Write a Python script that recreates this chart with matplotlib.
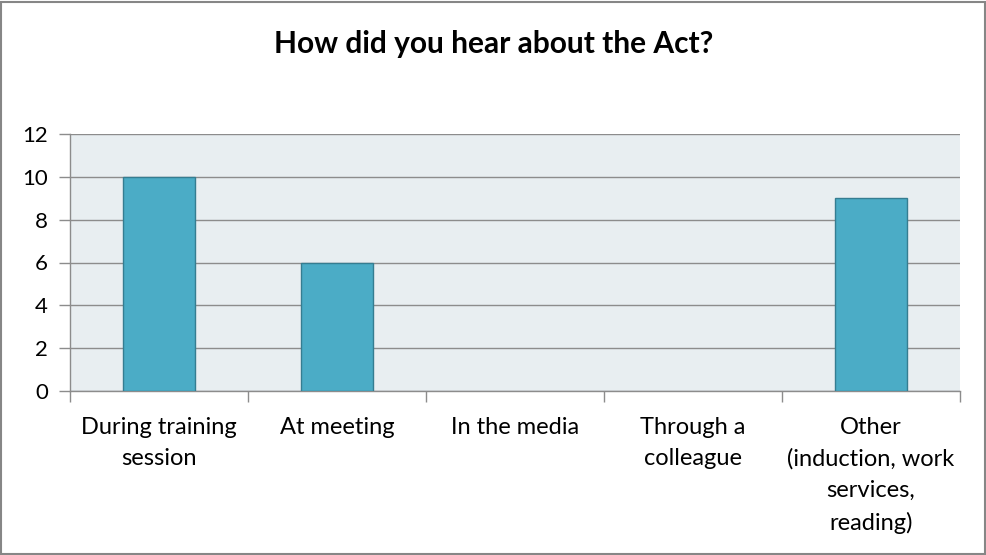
import matplotlib
matplotlib.use("Agg")
import matplotlib.pyplot as plt
from matplotlib.patches import Rectangle

categories = ["During training\nsession", "At meeting", "In the media",
              "Through a\ncolleague", "Other\n(induction, work\nservices,\nreading)"]
counts = [10, 6, 0, 0, 9]
yticks = [0, 2, 4, 6, 8, 10, 12]
title = "How did you hear about the Act?"

plt.rcParams['font.family'] = ['Lato', 'DejaVu Sans']

W, H = 987, 555
fig = plt.figure(figsize=(W / 100, H / 100), dpi=100)
fig.patch.set_facecolor("white")

# outer chart border
fig.add_artist(Rectangle((1.5 / W, 1.5 / H), (W - 3) / W, (H - 3) / H,
                         transform=fig.transFigure, fill=False,
                         edgecolor="#868686", linewidth=1.5))

left, right, top, bottom = 70, 960, 134, 391
ax = fig.add_axes([left / W, 1 - bottom / H, (right - left) / W, (bottom - top) / H])
ax.set_facecolor("#E8EEF1")

x = list(range(len(categories)))
edges = ["#357D91" if v > 0 else "none" for v in counts]
ax.bar(x, counts, width=0.40, color="#4BACC6", edgecolor=edges,
       linewidth=1.0, zorder=3)

ax.set_xlim(-0.5, len(categories) - 0.5)
ax.set_ylim(0, 12)
ax.set_yticks(yticks)
ax.set_yticklabels([str(v) for v in yticks], fontsize=16)
ax.yaxis.grid(True, color="#8C8C8C", linewidth=1.0, zorder=1)
ax.set_axisbelow(True)

# category ticks sit on the boundaries between categories
ax.set_xticks([i - 0.5 for i in range(len(categories) + 1)])
ax.set_xticklabels([])
ax.set_xticks(x, minor=True)
ax.set_xticklabels(categories, minor=True, fontsize=17, linespacing=1.58,
                   va="top")
ax.tick_params(axis="x", which="minor", length=0, pad=19)
ax.tick_params(axis="x", which="major", length=8, color="#8C8C8C", width=1.0)
ax.tick_params(axis="y", length=8, color="#8C8C8C", width=1.0, pad=8)

for side in ["top", "right"]:
    ax.spines[side].set_visible(False)
for side in ["left", "bottom"]:
    ax.spines[side].set_color("#8C8C8C")
    ax.spines[side].set_linewidth(1.0)

fig.text(0.5, 1 - 53 / H, title, ha="center", va="baseline",
         fontsize=21.5, fontweight="bold")

fig.savefig("out.png", dpi=100)
